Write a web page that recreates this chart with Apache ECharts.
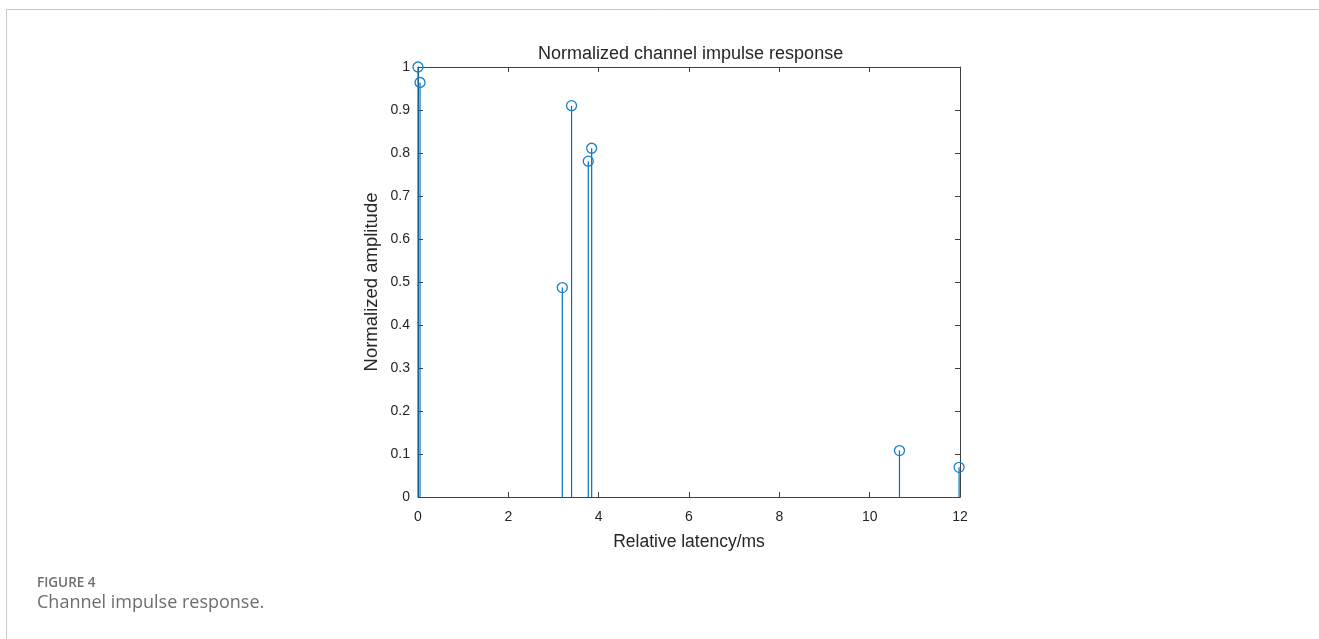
<!DOCTYPE html>
<html>
<head>
<meta charset="utf-8">
<script src="https://cdn.jsdelivr.net/npm/echarts@6/dist/echarts.min.js"></script>
<style>
html,body{margin:0;padding:0;background:#fff;}
#chart{width:1319px;height:639px;}
</style>
</head>
<body>
<div id="chart"></div>
<script>
// Data
const latency = [0.0, 0.045, 3.195, 3.40, 3.77, 3.845, 10.66, 11.98];
const amplitude = [1.0, 0.964, 0.487, 0.910, 0.781, 0.811, 0.108, 0.069];
const xTicks = [0, 2, 4, 6, 8, 10, 12];
const yTicks = [0, 0.1, 0.2, 0.3, 0.4, 0.5, 0.6, 0.7, 0.8, 0.9, 1];

const points = latency.map((x, i) => [x, amplitude[i]]);
const stemColor = '#0072BD';
const axisColor = '#404040';
const textColor = '#262626';
const font = '"Liberation Sans", Arial, sans-serif';

const chart = echarts.init(document.getElementById('chart'), null, {renderer: 'canvas'});

const baseX = {
  type: 'value', min: xTicks[0], max: xTicks[xTicks.length - 1], interval: 2,
  axisLine: {show: true, onZero: false, lineStyle: {color: axisColor, width: 1}},
  axisTick: {show: true, inside: true, length: 5, lineStyle: {color: axisColor}},
  splitLine: {show: false}
};
const baseY = {
  type: 'value', min: yTicks[0], max: yTicks[yTicks.length - 1], interval: 0.1,
  axisLine: {show: true, onZero: false, lineStyle: {color: axisColor, width: 1}},
  axisTick: {show: true, inside: true, length: 5, lineStyle: {color: axisColor}},
  splitLine: {show: false}
};

chart.setOption({
  animation: false,
  backgroundColor: '#fff',
  title: {
    text: 'Normalized channel impulse response',
    left: 533, top: 40,
    textStyle: {fontFamily: font, fontSize: 18, fontWeight: 'normal', color: textColor}
  },
  grid: {left: 418, right: 359, top: 67, bottom: 142},
  xAxis: [
    Object.assign({}, baseX, {
      position: 'bottom',
      axisLabel: {margin: 13, fontFamily: font, fontSize: 14, color: textColor},
      name: 'Relative latency/ms', nameLocation: 'middle', nameGap: 36,
      nameTextStyle: {fontFamily: font, fontSize: 17.5, color: textColor}
    }),
    Object.assign({}, baseX, {position: 'top', axisLabel: {show: false}})
  ],
  yAxis: [
    Object.assign({}, baseY, {
      position: 'left',
      axisLabel: {margin: 8, fontFamily: font, fontSize: 14, color: textColor,
        formatter: v => (v === 0 ? '0' : v === 1 ? '1' : v.toFixed(1))},
      name: 'Normalized amplitude', nameLocation: 'middle', nameGap: 37,
      nameTextStyle: {fontFamily: font, fontSize: 18.5, color: textColor}
    }),
    Object.assign({}, baseY, {position: 'right', axisLabel: {show: false}})
  ],
  series: [
    {
      type: 'custom',
      xAxisIndex: 0, yAxisIndex: 0,
      data: points,
      renderItem: function (params, api) {
        const top = api.coord([api.value(0), api.value(1)]);
        const bot = api.coord([api.value(0), 0]);
        return {
          type: 'line',
          shape: {x1: top[0], y1: top[1], x2: bot[0], y2: bot[1]},
          style: {stroke: stemColor, lineWidth: 1.2}
        };
      },
      silent: true,
      z: 2
    },
    {
      type: 'scatter',
      xAxisIndex: 0, yAxisIndex: 0,
      data: points,
      symbol: 'circle',
      symbolSize: 10,
      itemStyle: {color: 'rgba(255,255,255,0)', borderColor: '#1a7fc6', borderWidth: 1.3, opacity: 1},
      silent: true,
      z: 3
    }
  ],
  graphic: [
    {type: 'line', shape: {x1: 6.5, y1: 9.5, x2: 1319, y2: 9.5}, style: {stroke: '#c8c8c8', lineWidth: 1}, silent: true},
    {type: 'line', shape: {x1: 6.5, y1: 9.5, x2: 6.5, y2: 639}, style: {stroke: '#c8c8c8', lineWidth: 1}, silent: true},
    {type: 'text', left: 37, top: 576, style: {text: 'FIGURE 4', fill: '#6e6e6e', font: '600 13.5px "Open Sans", Lato, sans-serif'}, silent: true},
    {type: 'text', left: 37, top: 594, style: {text: 'Channel impulse response.', fill: '#6e6e6e', font: '18px "Open Sans", Lato, sans-serif'}, silent: true}
  ]
});
</script>
</body>
</html>
